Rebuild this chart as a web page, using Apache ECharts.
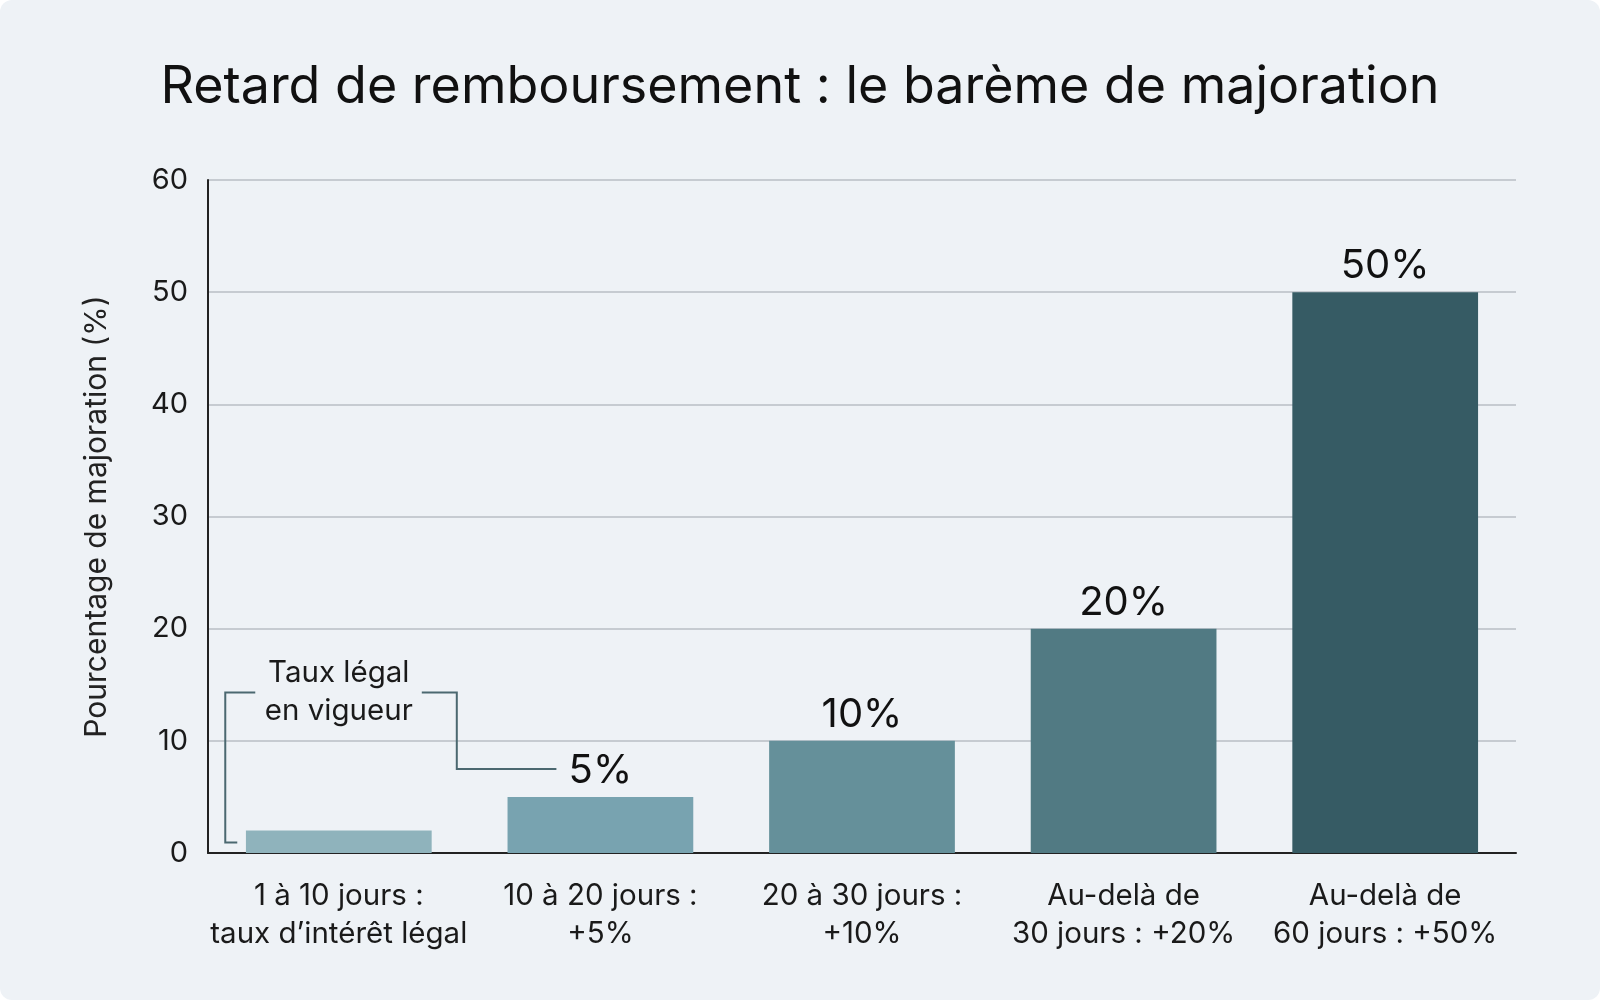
<!DOCTYPE html>
<html>
<head>
<meta charset="utf-8">
<script src="https://cdn.jsdelivr.net/npm/echarts@6/dist/echarts.min.js"></script>
<style>
  html, body { margin: 0; padding: 0; background: #ffffff; }
  #chart { width: 1600px; height: 1000px; background: #eef2f6; border-radius: 12px; overflow: hidden; }
</style>
</head>
<body>
<div id="chart"></div>
<script>
// données du barème
const categories = [
  '1 à 10 jours :\ntaux d’intérêt légal',
  '10 à 20 jours :\n+5%',
  '20 à 30 jours :\n+10%',
  'Au-delà de\n30 jours : +20%',
  'Au-delà de\n60 jours : +50%'
];
const majorations = [2, 5, 10, 20, 50];
const barColors = ['#8fb3bc', '#78a3b0', '#65909a', '#517a83', '#365b64'];
const yTicks = [0, 10, 20, 30, 40, 50, 60];
const noteText = 'Taux légal\nen vigueur';

const font = 'Inter, "Noto Sans", sans-serif';
const chart = echarts.init(document.getElementById('chart'));

chart.setOption({
  backgroundColor: 'transparent',
  animation: false,
  title: {
    text: 'Retard de remboursement : le barème de majoration',
    left: 'center',
    top: 56,
    textStyle: { fontFamily: font, fontSize: 52, fontWeight: 'normal', color: '#111' }
  },
  grid: { left: 208, right: 84, top: 180, bottom: 147 },
  xAxis: {
    type: 'category',
    data: categories,
    axisLine: { lineStyle: { color: '#222', width: 2 } },
    axisTick: { show: false },
    axisLabel: {
      fontFamily: font, fontSize: 29.5, color: '#1a1a1a',
      lineHeight: 38, margin: 24, interval: 0
    }
  },
  yAxis: {
    type: 'value',
    min: yTicks[0],
    max: yTicks[yTicks.length - 1],
    interval: 10,
    name: 'Pourcentage de majoration (%)',
    nameLocation: 'middle',
    nameGap: 96,
    nameTextStyle: { fontFamily: font, fontSize: 30, color: '#222' },
    axisLine: { show: true, lineStyle: { color: '#222', width: 2 } },
    axisTick: { show: false },
    axisLabel: { fontFamily: font, fontSize: 29, color: '#1a1a1a', margin: 20 },
    splitLine: { lineStyle: { color: '#b9bec4', width: 1.5 } }
  },
  series: [{
    type: 'bar',
    barWidth: '71%',
    data: majorations.map((v, i) => ({
      value: v,
      itemStyle: { color: barColors[i] },
      label: { show: i > 0 }
    })),
    label: {
      position: 'top',
      distance: 6,
      formatter: '{c}%',
      fontFamily: font, fontSize: 40, color: '#111'
    }
  }]
});

// annotation « Taux légal en vigueur » placée via les axes
function px(cat, val) {
  return chart.convertToPixel({ xAxisIndex: 0, yAxisIndex: 0 }, [cat, val]);
}
const catW = px(1, 0)[0] - px(0, 0)[0];
const p0 = px(0, 2);
const p1 = px(1, 5);
const leftX = p0[0] - catW * 0.434;
const topY = px(0, 14.3)[1];
const stroke = { stroke: '#4b6870', lineWidth: 2, fill: null };

chart.setOption({
  graphic: [
    {
      type: 'polyline',
      shape: { points: [[leftX + 12, p0[1] + 12], [leftX, p0[1] + 12], [leftX, topY], [leftX + 30, topY]] },
      style: stroke
    },
    {
      type: 'polyline',
      shape: { points: [[p0[0] + 83, topY], [p0[0] + 118, topY], [p0[0] + 118, px(0, 7.5)[1]], [p1[0] - 44, px(0, 7.5)[1]]] },
      style: stroke
    },
    {
      type: 'text',
      x: p0[0],
      y: topY,
      style: {
        text: noteText,
        fontFamily: font, fontSize: 29.5, lineHeight: 38,
        fill: '#1a1a1a', align: 'center', verticalAlign: 'middle'
      }
    }
  ]
});
</script>
</body>
</html>
